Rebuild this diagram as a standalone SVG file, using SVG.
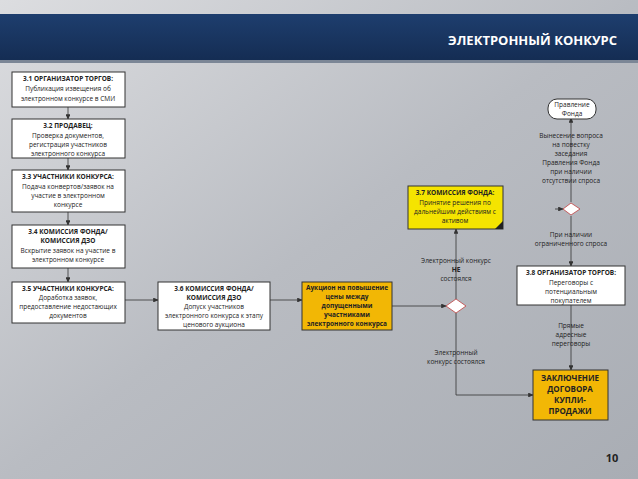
<svg xmlns="http://www.w3.org/2000/svg" width="638" height="479" viewBox="0 0 638 479">
<defs>
<linearGradient id="bg" x1="0" y1="0" x2="1" y2="1"><stop offset="0" stop-color="#dcdde0"/><stop offset="0.5" stop-color="#b9bcc2"/><stop offset="1" stop-color="#a9adb4"/></linearGradient>
<linearGradient id="hd" x1="0" y1="0" x2="0" y2="1"><stop offset="0" stop-color="#1e3e6e"/><stop offset="1" stop-color="#142c52"/></linearGradient>
<marker id="a" markerWidth="7" markerHeight="6" refX="6" refY="3" orient="auto"><path d="M0,0 L7,3 L0,6 z" fill="#333"/></marker>
</defs>
<style>
text{font-family:"Open Sans","Liberation Sans",sans-serif;font-size:6.5px;fill:#222;text-anchor:middle}
.b{font-weight:bold}
.box{fill:#fff;stroke:#333;stroke-width:1}
.ln{stroke:#333;stroke-width:0.8;fill:none}
.lab{fill:#333}
</style>
<rect width="638" height="479" fill="url(#bg)"/>
<rect x="0" y="14" width="638" height="48" fill="url(#hd)"/>
<rect x="0" y="60" width="638" height="3" fill="#7b8696"/>
<text x="617" y="45" style="font-size:13px;fill:#fff;text-anchor:end;font-weight:bold">ЭЛЕКТРОННЫЙ КОНКУРС</text>
<g id="connectors">
<line class="ln" x1="68" y1="107" x2="68" y2="119" marker-end="url(#a)"/>
<line class="ln" x1="68" y1="158" x2="68" y2="170" marker-end="url(#a)"/>
<line class="ln" x1="68" y1="212" x2="68" y2="225" marker-end="url(#a)"/>
<line class="ln" x1="68" y1="268" x2="68" y2="282" marker-end="url(#a)"/>
<line class="ln" x1="125" y1="300" x2="158" y2="300" marker-end="url(#a)"/>
<line class="ln" x1="270" y1="300" x2="302" y2="300" marker-end="url(#a)"/>
<line class="ln" x1="392" y1="306" x2="446" y2="306" marker-end="url(#a)"/>
<line class="ln" x1="456" y1="299" x2="456" y2="229" marker-end="url(#a)"/>
<polyline class="ln" points="456,313 456,395 533,395" marker-end="url(#a)"/>
<line class="ln" x1="571" y1="202" x2="571" y2="118" marker-end="url(#a)"/>
<line class="ln" x1="555" y1="209" x2="563" y2="209" marker-end="url(#a)"/>
<line class="ln" x1="571" y1="216" x2="571" y2="266" marker-end="url(#a)"/>
<line class="ln" x1="571" y1="305" x2="571" y2="370" marker-end="url(#a)"/>
</g>
<g id="n31"><rect class="box" x="12" y="72" width="113" height="35"/><text class="b" x="68" y="81">3.1 ОРГАНИЗАТОР ТОРГОВ:</text><text x="68" y="91">Публикация извещения об</text><text x="68" y="101">электронном конкурсе в СМИ</text></g>
<g id="n32"><rect class="box" x="12" y="119" width="113" height="39"/><text class="b" x="68" y="128">3.2 ПРОДАВЕЦ:</text><text x="68" y="138">Проверка документов,</text><text x="68" y="147">регистрация участников</text><text x="68" y="156">электронного конкурса</text></g>
<g id="n33"><rect class="box" x="12" y="170" width="113" height="42"/><text class="b" x="68" y="179">3.3 УЧАСТНИКИ КОНКУРСА:</text><text x="68" y="189">Подача конвертов/заявок на</text><text x="68" y="198">участие в электронном</text><text x="68" y="207">конкурсе</text></g>
<g id="n34"><rect class="box" x="12" y="225" width="113" height="43"/><text class="b" x="68" y="234">3.4 КОМИССИЯ ФОНДА/</text><text class="b" x="68" y="243">КОМИССИЯ ДЗО</text><text x="68" y="253">Вскрытие заявок на участие в</text><text x="68" y="262">электронном конкурсе</text></g>
<g id="n35"><rect class="box" x="12" y="282" width="113" height="41"/><text class="b" x="68" y="291">3.5 УЧАСТНИКИ КОНКУРСА:</text><text x="68" y="300">Доработка заявок,</text><text x="68" y="309">предоставление недостающих</text><text x="68" y="318">документов</text></g>
<g id="n36"><rect class="box" x="158" y="282" width="112" height="48"/><text class="b" x="214" y="291">3.6 КОМИССИЯ ФОНДА/</text><text class="b" x="214" y="300">КОМИССИЯ ДЗО</text><text x="214" y="309">Допуск участников</text><text x="214" y="318">электронного конкурса к этапу</text><text x="214" y="327">ценового аукциона</text></g>
<g id="auction"><rect x="302" y="282" width="90" height="48" fill="#f2b705" stroke="#333"/><text class="b" x="347" y="290">Аукцион на повышение</text><text class="b" x="347" y="299">цены между</text><text class="b" x="347" y="308">допущенными</text><text class="b" x="347" y="317">участниками</text><text class="b" x="347" y="326">электронного конкурса</text></g>
<g id="d1"><polygon points="446,306 456,299 466,306 456,313" fill="#fff" stroke="#c04040" stroke-width="0.8"/></g>
<g id="n37"><rect x="408" y="186" width="95" height="43" fill="#f5e400" stroke="#333"/><polygon points="495,229 503,229 503,221" fill="#222"/><text class="b" x="455" y="195">3.7 КОМИССИЯ ФОНДА:</text><text x="455" y="205">Принятие решения по</text><text x="455" y="214">дальнейшим действиям с</text><text x="455" y="223">активом</text></g>
<g id="l1"><text x="456" y="263">Электронный конкурс</text><text class="b" x="456" y="272">НЕ</text><text x="456" y="281">состоялся</text></g>
<g id="l2"><text x="456" y="355">Электронный</text><text x="456" y="364">конкурс состоялся</text></g>
<g id="pr"><rect x="548" y="99" width="48" height="20" rx="9" fill="#fff" stroke="#333"/><text x="572" y="107">Правление</text><text x="572" y="116">Фонда</text></g>
<g id="l3"><text x="571" y="138">Вынесение вопроса</text><text x="571" y="147">на повестку</text><text x="571" y="156">заседания</text><text x="571" y="165">Правления Фонда</text><text x="571" y="174">при наличии</text><text x="571" y="183">отсутствии спроса</text></g>
<g id="d2"><polygon points="563,209 571,203 580,209 571,215" fill="#fff" stroke="#c04040" stroke-width="0.8"/></g>
<g id="l4"><text x="571" y="237">При наличии</text><text x="571" y="246">ограниченного спроса</text></g>
<g id="n38"><rect class="box" x="517" y="266" width="108" height="39"/><text class="b" x="571" y="275">3.8 ОРГАНИЗАТОР ТОРГОВ:</text><text x="571" y="285">Переговоры с</text><text x="571" y="294">потенциальным</text><text x="571" y="303">покупателем</text></g>
<g id="l5"><text x="571" y="328">Прямые</text><text x="571" y="337">адресные</text><text x="571" y="346">переговоры</text></g>
<g id="fin"><rect x="533" y="370" width="75" height="50" fill="#f2b705" stroke="#333"/><text class="b" x="570" y="381" style="font-size:8px">ЗАКЛЮЧЕНИЕ</text><text class="b" x="570" y="392" style="font-size:8px">ДОГОВОРА</text><text class="b" x="570" y="403" style="font-size:8px">КУПЛИ-</text><text class="b" x="570" y="414" style="font-size:8px">ПРОДАЖИ</text></g>
<text x="612" y="462" style="font-size:11px;font-weight:bold">10</text>
</svg>
